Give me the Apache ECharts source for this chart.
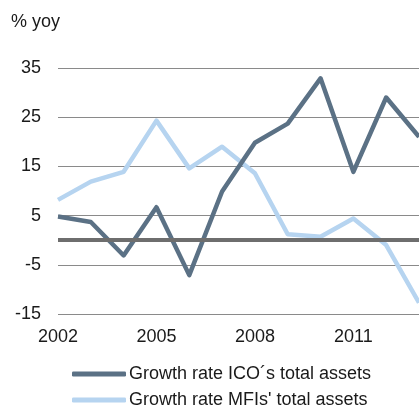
<!DOCTYPE html>
<html>
<head>
<meta charset="utf-8">
<script src="https://cdn.jsdelivr.net/npm/echarts@6/dist/echarts.min.js"></script>
<style>
  html, body { margin: 0; padding: 0; background: #fff; }
  #chart { width: 419px; height: 408px; }
</style>
</head>
<body>
<div id="chart"></div>
<script>
// years on the x axis
var years = ['2002','2003','2004','2005','2006','2007','2008','2009','2010','2011','2012','2013'];
// growth rates, % yoy
var icoAssets = [4.8, 3.7, -3.1, 6.7, -7.1, 9.9, 19.8, 23.7, 32.9, 13.9, 29.0, 21.0];
var mfiAssets = [8.2, 11.9, 13.9, 24.3, 14.6, 19.0, 13.6, 1.2, 0.7, 4.4, -1.0, -12.7];
var legendNames = ["Growth rate ICO\u00b4s total assets", "Growth rate MFIs' total assets"];

var font = '"Liberation Sans", Arial, sans-serif';
var chart = echarts.init(document.getElementById('chart'));

// one legend per row, stacked
function legendRow(name, top) {
  return {
    left: 72,
    top: top,
    padding: 0,
    icon: 'roundRect',
    itemWidth: 54,
    itemHeight: 5,
    data: [name],
    textStyle: { fontFamily: font, fontSize: 18, color: '#1a1a1a', padding: [0, 0, 0, -2] }
  };
}

chart.setOption({
  animation: false,
  textStyle: { fontFamily: font },
  title: {
    text: '% yoy',
    left: 11,
    top: 13,
    padding: 0,
    textStyle: { fontFamily: font, fontSize: 18, fontWeight: 'normal', color: '#1a1a1a' }
  },
  grid: { left: 58, top: 68, width: 362, bottom: 94, containLabel: false },
  legend: [
    legendRow(legendNames[0], 365),
    legendRow(legendNames[1], 391)
  ],
  xAxis: {
    type: 'category',
    boundaryGap: false,
    data: years,
    axisLine: { show: false },
    axisTick: { show: false },
    axisLabel: {
      interval: 2,
      margin: 14,
      fontSize: 18,
      color: '#1a1a1a',
      fontFamily: font
    },
    splitLine: { show: false }
  },
  yAxis: {
    type: 'value',
    min: -15,
    max: 35,
    interval: 10,
    axisLine: { show: false },
    axisTick: { show: false },
    axisLabel: { margin: 17, fontSize: 18, color: '#1a1a1a', fontFamily: font },
    splitLine: { lineStyle: { color: '#8a8a8a', width: 1 } }
  },
  series: [
    {
      name: 'zero',
      type: 'line',
      data: [],
      z: 1,
      silent: true,
      markLine: {
        silent: true,
        symbol: 'none',
        label: { show: false },
        lineStyle: { color: '#6e6e6e', width: 4, type: 'solid' },
        data: [{ yAxis: 0 }]
      }
    },
    {
      name: legendNames[0],
      type: 'line',
      data: icoAssets,
      z: 3,
      symbol: 'none',
      lineStyle: { color: '#5b7185', width: 4.5, join: 'round' },
      itemStyle: { color: '#5b7185' }
    },
    {
      name: legendNames[1],
      type: 'line',
      data: mfiAssets,
      z: 2,
      symbol: 'none',
      lineStyle: { color: '#b6d4f0', width: 4.5, join: 'round' },
      itemStyle: { color: '#b6d4f0' }
    }
  ]
});
</script>
</body>
</html>
